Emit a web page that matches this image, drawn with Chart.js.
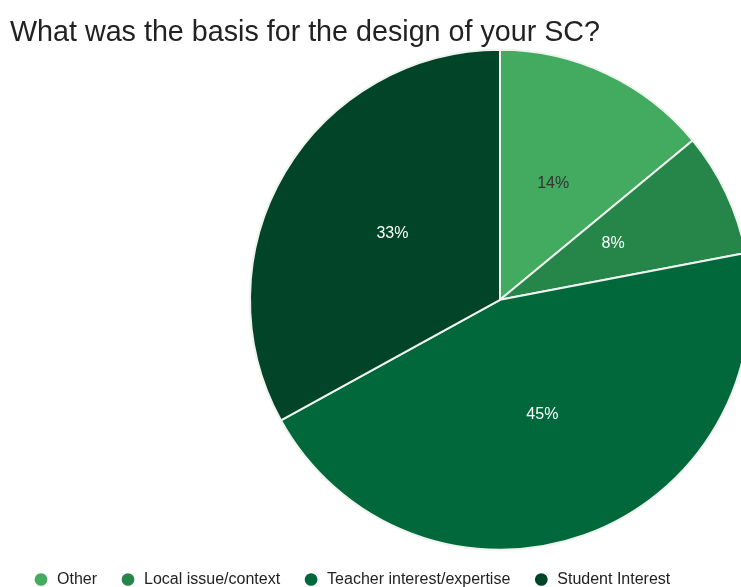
<!DOCTYPE html>
<html>
<head>
<meta charset="utf-8">
<title>SC design basis</title>
<script src="https://cdn.jsdelivr.net/npm/chart.js@4/dist/chart.umd.min.js"></script>
<style>
  html, body { margin: 0; padding: 0; background: #fff; overflow: hidden; }
  body { width: 741px; height: 587px; }
  canvas { display: block; }
</style>
</head>
<body>
<!-- the pie runs past the right edge of the page, so the canvas is wider than the window -->
<canvas id="chart" width="990" height="587"></canvas>
<script>
var categories = ['Other', 'Local issue/context', 'Teacher interest/expertise', 'Student Interest'];
var shares = [14, 8, 45, 33];
var sliceColors = ['#43ab5f', '#26864a', '#00683a', '#024428'];
var labelColors = ['#333333', '#ffffff', '#ffffff', '#ffffff'];

var fontFamily = "'Liberation Sans', Arial, sans-serif";

// writes the percentage in the middle of every slice
var sliceLabels = {
  id: 'sliceLabels',
  afterDatasetsDraw: function (chart) {
    var ctx = chart.ctx;
    var meta = chart.getDatasetMeta(0);
    var total = shares.reduce(function (a, b) { return a + b; }, 0);
    ctx.save();
    ctx.font = '16px ' + fontFamily;
    ctx.textAlign = 'center';
    ctx.textBaseline = 'middle';
    meta.data.forEach(function (arc, i) {
      var pos = arc.tooltipPosition();
      ctx.fillStyle = labelColors[i];
      ctx.fillText(Math.round(shares[i] / total * 100) + '%', pos.x, pos.y - 3);
    });
    ctx.restore();
  }
};

new Chart(document.getElementById('chart'), {
  type: 'pie',
  data: {
    labels: categories,
    datasets: [{
      data: shares,
      backgroundColor: sliceColors,
      borderColor: '#eef3ef',
      borderWidth: 2
    }]
  },
  options: {
    responsive: false,
    animation: false,
    radius: 250,
    layout: {
      padding: { left: 10, right: 0, top: 17, bottom: -10.5 }
    },
    plugins: {
      title: {
        display: true,
        text: 'What was the basis for the design of your SC?',
        align: 'start',
        color: '#222222',
        font: { family: fontFamily, size: 28.7, weight: 'normal', lineHeight: 1.1 },
        padding: { top: 0, bottom: 2.6 }
      },
      legend: {
        position: 'bottom',
        align: 'start',
        labels: {
          usePointStyle: true,
          pointStyle: 'circle',
          boxWidth: 16,
          boxHeight: 9,
          padding: 23,
          color: '#222222',
          font: { family: fontFamily, size: 16 },
          // solid dots, without the white slice border
          generateLabels: function (chart) {
            var items = Chart.overrides.pie.plugins.legend.labels.generateLabels(chart);
            items.forEach(function (item) {
              item.lineWidth = 0;
              item.strokeStyle = item.fillStyle;
            });
            return items;
          }
        }
      },
      tooltip: { enabled: false }
    }
  },
  plugins: [sliceLabels]
});
</script>
</body>
</html>
